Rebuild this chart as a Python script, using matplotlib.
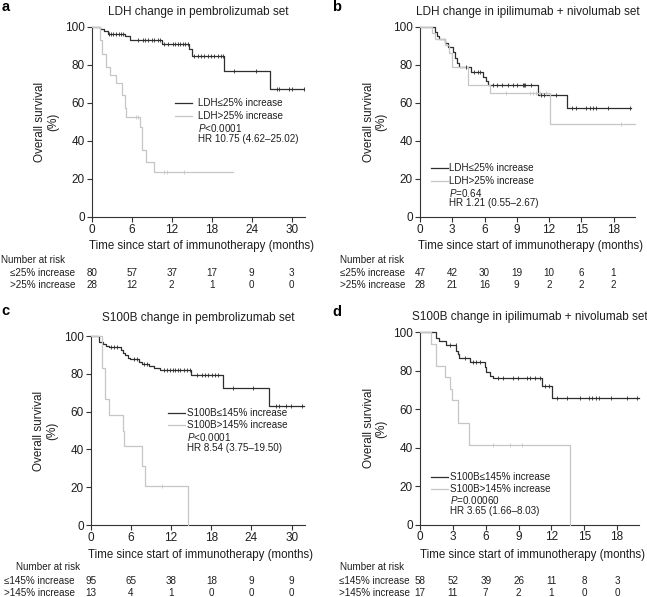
import numpy as np
import matplotlib
matplotlib.use("Agg")
import matplotlib.pyplot as plt
from matplotlib.lines import Line2D
import matplotlib.transforms as mtransforms

plt.rcParams['font.family'] = ['Liberation Sans', 'DejaVu Sans']
plt.rcParams['mathtext.fontset'] = 'custom'
plt.rcParams['mathtext.rm'] = 'Liberation Sans'
plt.rcParams['mathtext.it'] = 'Liberation Sans:italic'

W, H = 647, 597
DARK = '#2e2e2e'
LIGHT = '#c6c6c6'
TXT = '#1e1e1e'

# ---------- data (months, % survival) ----------
# panel a: LDH, pembrolizumab
a_lo_t = [1.2, 1.9, 2.4, 5.0, 5.7, 10.5, 14.6, 15.0, 19.9, 26.8]
a_lo_s = [98.8, 97.5, 96.2, 94.9, 92.9, 91.0, 88.5, 84.6, 76.8, 67.1]
a_lo_end = 31.9
a_lo_c = [2.54, 2.84, 3.19, 3.69, 4.04, 4.44, 4.73, 6.93, 7.67, 8.02, 8.52, 9.02,
          9.42, 9.92, 10.31, 10.91, 11.41, 12.16, 12.51, 12.9, 13.3, 13.65, 14.0,
          14.4, 15.4, 15.9, 16.4, 16.9, 17.4, 17.9, 18.4, 18.9, 19.4, 19.7, 21.4,
          24.6, 27.75, 28.1, 29.6, 30.0, 31.8]
a_hi_t = [1.2, 1.5, 2.2, 2.8, 3.6, 4.6, 5.0, 5.1, 7.2, 7.5, 8.1, 9.3]
a_hi_s = [92.9, 85.7, 78.6, 74.5, 70.4, 64.0, 57.0, 52.6, 47.4, 35.0, 29.0, 23.7]
a_hi_end = 21.2
a_hi_c = [6.68, 7.0, 10.9, 11.26, 13.9]

# panel b: LDH, ipilimumab + nivolumab
b_lo_t = [1.4, 1.6, 1.8, 2.3, 2.6, 3.1, 3.3, 3.4, 3.6, 4.7, 5.9, 6.1, 6.3, 11.0, 13.7]
b_lo_s = [97.4, 95.0, 93.3, 91.2, 89.5, 86.8, 83.3, 81.0, 78.6, 76.3, 73.7, 71.4, 69.3, 64.0, 57.0]
b_lo_end = 19.6
b_lo_c = [4.3, 5.06, 5.37, 5.59, 6.77, 7.17, 7.64, 8.17, 8.63, 9.04, 9.57, 9.66,
          9.75, 10.34, 11.27, 11.58, 12.67, 14.16, 14.53, 15.47, 15.78, 16.09,
          16.4, 17.48, 19.5]
b_hi_t = [1.1, 1.35, 2.3, 2.7, 3.0, 4.45, 6.5, 12.05]
b_hi_s = [96.5, 93.3, 90.4, 86.0, 78.6, 69.3, 65.0, 48.6]
b_hi_end = 20.0
b_hi_c = [8.0, 10.19, 10.5, 10.81, 11.12, 11.68, 18.7]

# panel c: S100B, pembrolizumab
c_lo_t = [1.23, 1.82, 2.31, 2.66, 4.5, 4.77, 5.1, 5.5, 5.9, 7.2, 7.6, 8.7, 9.4, 10.4, 15.0, 19.8, 26.6]
c_lo_s = [97.0, 95.8, 94.9, 94.0, 92.6, 91.2, 90.0, 88.6, 87.9, 86.5, 85.4, 84.2, 83.3, 82.1, 79.4, 72.4, 63.1]
c_lo_end = 31.8
c_lo_c = [3.05, 3.54, 3.94, 6.49, 6.89, 7.97, 8.36, 10.92, 11.4, 11.9, 12.3, 12.64,
          12.99, 13.38, 13.87, 14.36, 14.76, 15.84, 16.58, 17.07, 17.56, 18.05,
          18.54, 19.04, 21.25, 24.2, 27.64, 28.14, 29.12, 29.86, 31.58]
c_hi_t = [1.67, 2.2, 2.8, 4.77, 5.0, 7.6, 8.1, 14.6]
c_hi_s = [83.3, 66.7, 58.3, 50.0, 41.7, 31.3, 20.8, 0.0]
c_hi_end = 14.6
c_hi_c = [10.67]

# panel d: S100B, ipilimumab + nivolumab
d_lo_t = [1.47, 1.72, 2.4, 3.3, 3.47, 3.6, 4.54, 5.9, 6.07, 6.4, 6.7, 11.1, 12.05]
d_lo_s = [97.2, 95.5, 93.3, 90.3, 88.6, 86.5, 84.3, 81.7, 79.1, 77.3, 76.0, 72.1, 65.9]
d_lo_end = 20.0
d_lo_c = [2.7, 3.25, 4.08, 4.85, 5.09, 5.46, 7.15, 7.6, 8.53, 8.99, 9.75, 10.06,
          10.52, 10.92, 11.44, 11.75, 12.5, 13.44, 14.6, 15.43, 15.74, 16.04,
          16.35, 17.42, 18.9, 19.8]
d_hi_t = [1.0, 1.5, 2.3, 2.7, 2.9, 3.5, 4.5, 13.7]
d_hi_s = [94.1, 82.4, 76.5, 70.6, 64.7, 52.9, 41.2, 0.0]
d_hi_end = 13.7
d_hi_c = [6.63, 8.22, 9.29]

# numbers at risk
a_ticks = [0, 6, 12, 18, 24, 30]
a_risk_lo = [80, 57, 37, 17, 9, 3]
a_risk_hi = [28, 12, 2, 1, 0, 0]
b_ticks = [0, 3, 6, 9, 12, 15, 18]
b_risk_lo = [47, 42, 30, 19, 10, 6, 1]
b_risk_hi = [28, 21, 16, 9, 2, 2, 2]
c_ticks = [0, 6, 12, 18, 24, 30]
c_risk_lo = [95, 65, 38, 18, 9, 9]
c_risk_hi = [13, 4, 1, 0, 0, 0]
d_ticks = [0, 3, 6, 9, 12, 15, 18]
d_risk_lo = [58, 52, 39, 26, 11, 8, 3]
d_risk_hi = [17, 11, 7, 2, 1, 0, 0]


def fx(px):
    return px / W


def fy(py):
    return 1 - py / H


def km(ax, t, s, end, cens, color):
    tt = [0] + list(t)
    ss = [100] + list(s)
    if ss[-1] > 0:
        tt = tt + [end]
        ss = ss + [ss[-1]]
    ax.step(tt, ss, where='post', color=color, lw=0.9, clip_on=False, zorder=3)
    ev = np.array(t)
    sv = np.array([100] + list(s))
    cy = [sv[np.searchsorted(ev, c, side='right')] for c in cens]
    ax.plot(cens, cy, ls='none', marker='|', ms=3.5, mew=0.6, color=color,
            clip_on=False, zorder=4)


fig = plt.figure(figsize=(W / 100, H / 100), dpi=100)

panels = [
    dict(box=(91.7, 26.7, 305, 216.7), xmax=32, ticks=a_ticks,
         title='LDH change in pembrolizumab set', title_y=12, letter=('a', 2, 7),
         lo=(a_lo_t, a_lo_s, a_lo_end, a_lo_c), hi=(a_hi_t, a_hi_s, a_hi_end, a_hi_c),
         labels=('LDH≤25% increase', 'LDH>25% increase'),
         stats=('$\\it{P}$<0.0001', 'HR 10.75 (4.62–25.02)'),
         leg=(175, 198, [103, 116, 128, 139]),
         risk_rows=('≤25% increase', '>25% increase'), risk=(a_risk_lo, a_risk_hi),
         risk_y=(260, 273, 285.5), hdr_right=65, row_right=75, xlab_y=245.5),
    dict(box=(420, 26.7, 635, 216.7), xmax=20, ticks=b_ticks,
         title='LDH change in ipilimumab + nivolumab set', title_y=12, letter=('b', 332, 7),
         lo=(b_lo_t, b_lo_s, b_lo_end, b_lo_c), hi=(b_hi_t, b_hi_s, b_hi_end, b_hi_c),
         labels=('LDH≤25% increase', 'LDH>25% increase'),
         stats=('$\\it{P}$=0.64', 'HR 1.21 (0.55–2.67)'),
         leg=(431, 449, [167.7, 181, 192.7, 203.3]),
         risk_rows=('≤25% increase', '>25% increase'), risk=(b_risk_lo, b_risk_hi),
         risk_y=(260, 273, 285.5), hdr_right=404, row_right=405, xlab_y=245.5),
    dict(box=(90.7, 336, 305, 525), xmax=32, ticks=c_ticks,
         title='S100B change in pembrolizumab set', title_y=318.5, letter=('c', 1, 311),
         lo=(c_lo_t, c_lo_s, c_lo_end, c_lo_c), hi=(c_hi_t, c_hi_s, c_hi_end, c_hi_c),
         labels=('S100B≤145% increase', 'S100B>145% increase'),
         stats=('$\\it{P}$<0.0001', 'HR 8.54 (3.75–19.50)'),
         leg=(168, 187, [412.7, 425.3, 437.3, 448.3]),
         risk_rows=('≤145% increase', '>145% increase'), risk=(c_risk_lo, c_risk_hi),
         risk_y=(567.5, 580.5, 593), hdr_right=80, row_right=75, xlab_y=555),
    dict(box=(420, 332.3, 639, 524.5), xmax=20, ticks=d_ticks,
         title='S100B change in ipilimumab + nivolumab set', title_y=316.7, letter=('d', 332, 312),
         lo=(d_lo_t, d_lo_s, d_lo_end, d_lo_c), hi=(d_hi_t, d_hi_s, d_hi_end, d_hi_c),
         labels=('S100B≤145% increase', 'S100B>145% increase'),
         stats=('$\\it{P}$=0.00060', 'HR 3.65 (1.66–8.03)'),
         leg=(431, 450, [476.7, 489.3, 500.3, 511]),
         risk_rows=('≤145% increase', '>145% increase'), risk=(d_risk_lo, d_risk_hi),
         risk_y=(567.5, 580.5, 593), hdr_right=404, row_right=410, xlab_y=555),
]

for p in panels:
    l, t, r, b = p['box']
    ax = fig.add_axes([fx(l), fy(b), (r - l) / W, (b - t) / H])
    ax.set_xlim(0, p['xmax'])
    ax.set_ylim(0, 100)
    for sp in ('top', 'right'):
        ax.spines[sp].set_visible(False)
    for sp in ('left', 'bottom'):
        ax.spines[sp].set_linewidth(0.8)
        ax.spines[sp].set_color('#333333')
    ax.set_xticks(p['ticks'])
    ax.set_yticks([0, 20, 40, 60, 80, 100])
    ax.tick_params(direction='out', length=3.5, width=0.8, color='#333333',
                   labelsize=8.5, labelcolor=TXT, pad=1.5)
    ax.set_ylabel('Overall survival\n(%)', fontsize=8.5, color=TXT, labelpad=4,
                  linespacing=1.1)

    km(ax, *p['lo'], DARK)
    km(ax, *p['hi'], LIGHT)

    # title, panel letter, x label
    fig.text(fx((l + r) / 2), fy(p['title_y']), p['title'], ha='center', va='center',
             fontsize=8.5, color=TXT)
    let, lx, ly = p['letter']
    fig.text(fx(lx), fy(ly), let, ha='left', va='center', fontsize=10.5,
             fontweight='bold', color='black')
    fig.text(fx((l + r) / 2 + 3), fy(p['xlab_y']), 'Time since start of immunotherapy (months)',
             ha='center', va='center', fontsize=8.3, color=TXT)

    # legend block
    hx, tx, rows = p['leg']
    for col, yy in zip((DARK, LIGHT), rows[:2]):
        fig.add_artist(Line2D([fx(hx), fx(hx + 17)], [fy(yy), fy(yy)], color=col, lw=0.9))
    texts = list(p['labels']) + list(p['stats'])
    for txt, yy in zip(texts, rows):
        fig.text(fx(tx), fy(yy), txt, ha='left', va='center', fontsize=7.1, color=TXT)

    # numbers at risk
    hy, y1, y2 = p['risk_y']
    fig.text(fx(p['hdr_right']), fy(hy), 'Number at risk', ha='right', va='center',
             fontsize=7.1, color=TXT)
    fig.text(fx(p['row_right']), fy(y1), p['risk_rows'][0], ha='right', va='center',
             fontsize=7.1, color=TXT)
    fig.text(fx(p['row_right']), fy(y2), p['risk_rows'][1], ha='right', va='center',
             fontsize=7.1, color=TXT)
    trans = mtransforms.blended_transform_factory(ax.transData, fig.transFigure)
    for tk, n1, n2 in zip(p['ticks'], *p['risk']):
        ax.text(tk, fy(y1), str(n1), transform=trans, ha='center', va='center',
                fontsize=7.1, color=TXT, clip_on=False)
        ax.text(tk, fy(y2), str(n2), transform=trans, ha='center', va='center',
                fontsize=7.1, color=TXT, clip_on=False)

fig.savefig('out.png', dpi=100)
